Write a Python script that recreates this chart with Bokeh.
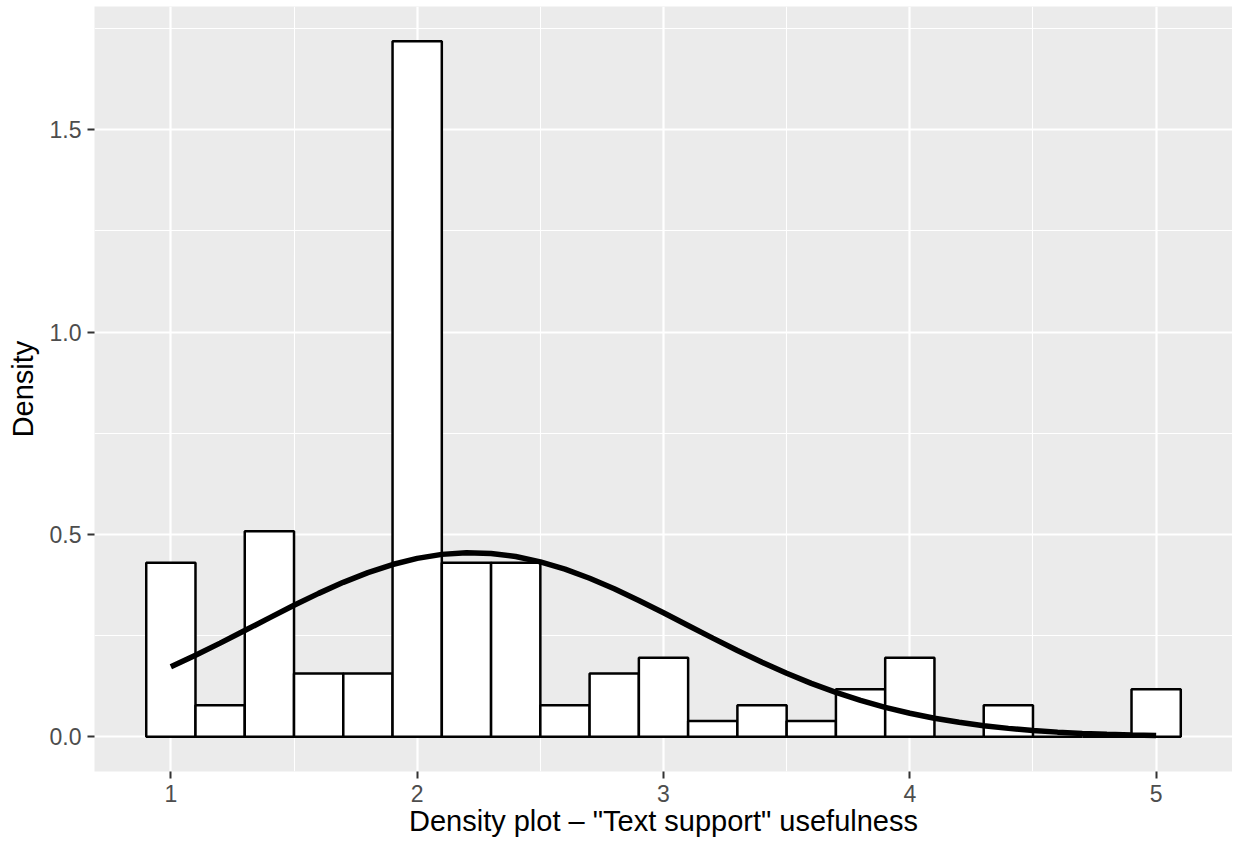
from bokeh.plotting import figure
from bokeh.models import FixedTicker, Range1d, ColumnDataSource
from bokeh.embed import file_html
from bokeh.resources import INLINE

# Histogram bins (width 0.2, centred on 1.0, 1.2, ... 5.0)
bin_left = [0.9, 1.1, 1.3, 1.5, 1.7, 1.9, 2.1, 2.3, 2.5, 2.7, 2.9,
            3.1, 3.3, 3.5, 3.7, 3.9, 4.1, 4.3, 4.5, 4.7, 4.9]
bin_right = [1.1, 1.3, 1.5, 1.7, 1.9, 2.1, 2.3, 2.5, 2.7, 2.9, 3.1,
             3.3, 3.5, 3.7, 3.9, 4.1, 4.3, 4.5, 4.7, 4.9, 5.1]
bar_density = [0.4297, 0.0781, 0.5078, 0.1563, 0.1563, 1.7188, 0.4297, 0.4297,
               0.0781, 0.1563, 0.1953, 0.0391, 0.0781, 0.0391, 0.1172, 0.1953,
               0.0, 0.0781, 0.0, 0.0, 0.1172]

# Fitted normal density curve
curve_x = [1.0, 1.1, 1.2, 1.3, 1.4, 1.5, 1.6, 1.7, 1.8, 1.9, 2.0,
           2.1, 2.2, 2.3, 2.4, 2.5, 2.6, 2.7, 2.8, 2.9, 3.0,
           3.1, 3.2, 3.3, 3.4, 3.5, 3.6, 3.7, 3.8, 3.9, 4.0,
           4.1, 4.2, 4.3, 4.4, 4.5, 4.6, 4.7, 4.8, 4.9, 5.0]
curve_y = [0.1729, 0.2013, 0.2313, 0.2624, 0.2938, 0.3248, 0.3543, 0.3816, 0.4056, 0.4256, 0.4408,
           0.4507, 0.4548, 0.4530, 0.4454, 0.4323, 0.4141, 0.3916, 0.3656, 0.3368, 0.3063,
           0.2750, 0.2437, 0.2131, 0.1840, 0.1568, 0.1319, 0.1095, 0.0898, 0.0726, 0.0580,
           0.0457, 0.0356, 0.0273, 0.0207, 0.0155, 0.0114, 0.0083, 0.0060, 0.0043, 0.0030]

x_ticks = [1, 2, 3, 4, 5]
x_minor = [1.5, 2.5, 3.5, 4.5]
y_ticks = [0.0, 0.5, 1.0, 1.5]
y_minor = [0.25, 0.75, 1.25, 1.75]
y_tick_labels = {0.0: "0.0", 0.5: "0.5", 1.0: "1.0", 1.5: "1.5"}

FONT = "Liberation Sans"

p = figure(width=1232, height=840, output_backend="svg", toolbar_location=None,
           x_range=Range1d(0.69, 5.31), y_range=Range1d(-0.0859, 1.8047),
           min_border_left=94, min_border_right=0, min_border_top=6, min_border_bottom=69)

p.background_fill_color = "#EBEBEB"
p.border_fill_color = "white"
p.outline_line_color = None

# grid
p.xaxis.ticker = FixedTicker(ticks=x_ticks, minor_ticks=x_minor)
p.yaxis.ticker = FixedTicker(ticks=y_ticks, minor_ticks=y_minor)
for g in (p.xgrid, p.ygrid):
    g.grid_line_color = "white"
    g.grid_line_width = 2.2
    g.minor_grid_line_color = "white"
    g.minor_grid_line_width = 1.1

# axes
for ax in (p.xaxis, p.yaxis):
    ax.axis_line_color = None
    ax.major_tick_line_color = "#333333"
    ax.major_tick_line_width = 2
    ax.major_tick_in = 0
    ax.major_tick_out = 7
    ax.minor_tick_line_color = None
    ax.major_label_text_font = FONT
    ax.major_label_text_font_size = "23px"
    ax.major_label_text_color = "#4D4D4D"
    ax.axis_label_text_font = FONT
    ax.axis_label_text_font_size = "29px"
    ax.axis_label_text_font_style = "normal"
    ax.axis_label_text_color = "black"

p.yaxis.major_label_overrides = y_tick_labels
p.xaxis.axis_label = 'Density plot \u2013 "Text support" usefulness'
p.yaxis.axis_label = "Density"
p.xaxis.major_label_standoff = 6
p.yaxis.major_label_standoff = 6
p.xaxis.axis_label_standoff = 0
p.yaxis.axis_label_standoff = 8

src = ColumnDataSource(dict(left=bin_left, right=bin_right, top=bar_density,
                            bottom=[0.0] * len(bar_density)))
p.quad(left="left", right="right", top="top", bottom="bottom", source=src,
       fill_color="white", line_color="black", line_width=2.5)

p.line(curve_x, curve_y, line_color="black", line_width=5.5)

open("out.html", "w").write(file_html(p, INLINE))
